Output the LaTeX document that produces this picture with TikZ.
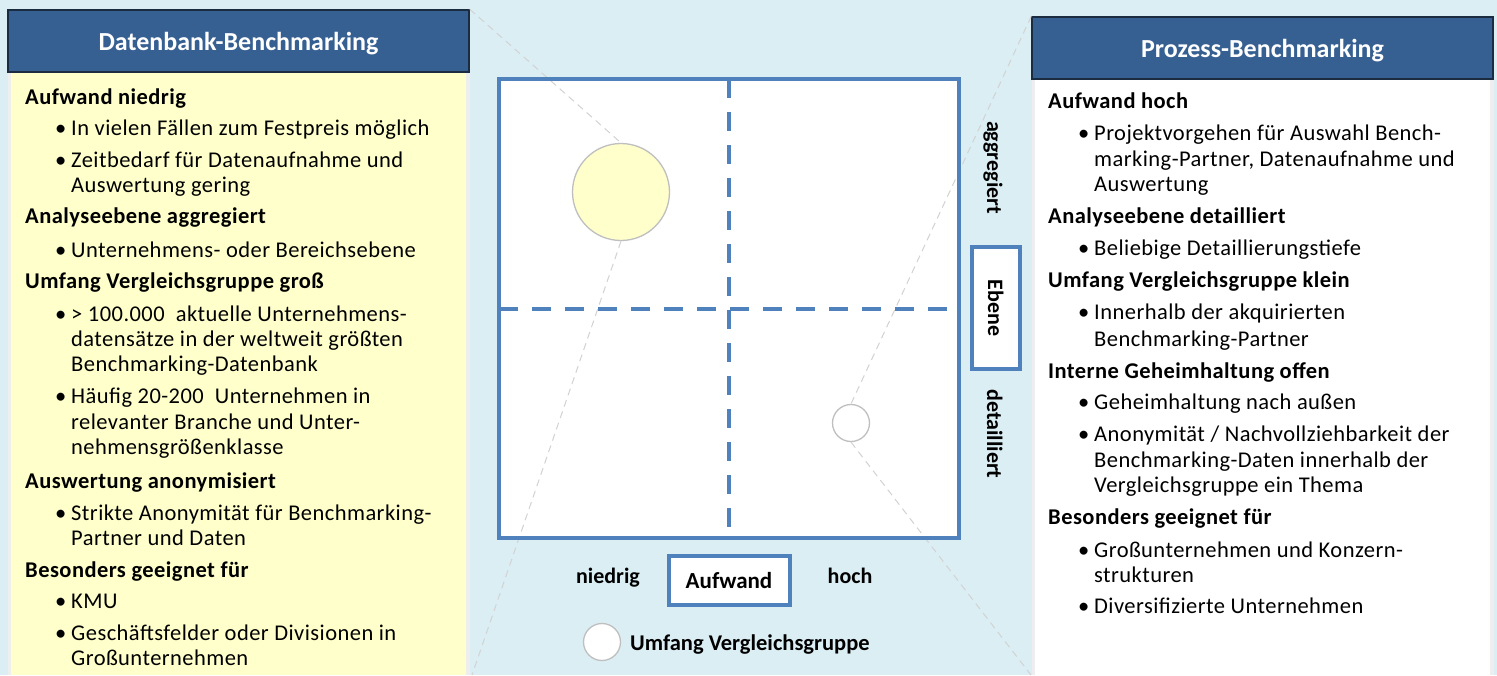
\documentclass[tikz,border=0pt]{standalone}
\usepackage{fontspec}
\setmainfont{Carlito}
\newfontfamily\bodyfont{Carlito}[LetterSpace=2.0]
\definecolor{bg}{HTML}{DBEEF4}
\definecolor{hdblue}{HTML}{376092}
\definecolor{hdborder}{HTML}{1C2C40}
\definecolor{paleyel}{HTML}{FFFFCC}
\definecolor{edgegrey}{HTML}{EEEEEE}
\definecolor{blu}{HTML}{4F81BD}
\definecolor{circgrey}{HTML}{BFBFBF}
\definecolor{callgrey}{HTML}{D2D2D2}
\begin{document}
\begin{tikzpicture}[x=1pt,y=-1pt,
  tx/.style={anchor=base west, inner sep=0pt, font=\bodyfont\fontsize{22.5}{25}\selectfont},
  hd/.style={tx, font=\bodyfont\fontsize{22.5}{25}\selectfont\bfseries},
  bl/.style={tx},
  header/.style={draw=hdborder, line width=1.5pt, fill=hdblue, text=white,
    minimum width=461pt, minimum height=62pt, inner sep=0pt,
    text height=18pt, text depth=0pt, font=\fontsize{26}{28}\selectfont\bfseries},
  bluebox/.style={draw=blu, line width=4pt, fill=white, inner sep=0pt},
  axlab/.style={inner sep=0pt, font=\fontsize{22}{24}\selectfont\bfseries},
  bubble/.style={circle, draw=circgrey, line width=1.3pt, inner sep=0pt},
  callout/.style={draw=callgrey, line width=1pt, dash pattern=on 7pt off 5pt},
  quadline/.style={draw=blu, line width=4pt, dash pattern=on 19pt off 14pt}
]
\useasboundingbox (0,0) rectangle (1497,675);
\fill[bg] (0,0) rectangle (1497,675);

% ---------- left panel ----------
\fill[edgegrey] (8,72) rectangle (470,675);
\fill[paleyel] (11,72) rectangle (466,675);
\node[header] (lh) at (238.5,41) {Datenbank-Benchmarking};

\node[hd] (la1) at (25,104) {Aufwand niedrig};
\node[bl] (lb1) at (55,135) {•};
\node[tx] (lt1) at (71,135) {In vielen Fällen zum Festpreis möglich};
\node[bl] (lb2) at (55,167) {•};
\node[tx] (lt2) at (71,167) {Zeitbedarf für Datenaufnahme und};
\node[tx] (lt2b) at (71,192) {Auswertung gering};
\node[hd] (la2) at (25,223) {Analyseebene aggregiert};
\node[bl] (lb3) at (55,257) {•};
\node[tx] (lt3) at (71,257) {Unternehmens- oder Bereichsebene};
\node[hd] (la3) at (25,288) {Umfang Vergleichsgruppe groß};
\node[bl] (lb4) at (55,321) {•};
\node[tx] (lt4) at (71,321) {> 100.000\ \ aktuelle Unternehmens-};
\node[tx] (lt4b) at (71,346) {datensätze in der weltweit größten};
\node[tx] (lt4c) at (71,371) {Benchmarking-Datenbank};
\node[bl] (lb5) at (55,403) {•};
\node[tx] (lt5) at (71,403) {Häufig 20-200\ \ Unternehmen in};
\node[tx] (lt5b) at (71,429) {relevanter Branche und Unter-};
\node[tx] (lt5c) at (71,454) {nehmensgrößenklasse};
\node[hd] (la4) at (25,488) {Auswertung anonymisiert};
\node[bl] (lb6) at (55,520) {•};
\node[tx] (lt6) at (71,520) {Strikte Anonymität für Benchmarking-};
\node[tx] (lt6b) at (71,545) {Partner und Daten};
\node[hd] (la5) at (25,577) {Besonders geeignet für};
\node[bl] (lb7) at (55,608) {•};
\node[tx] (lt7) at (71,608) {KMU};
\node[bl] (lb8) at (55,640) {•};
\node[tx] (lt8) at (71,640) {Geschäftsfelder oder Divisionen in};
\node[tx] (lt8b) at (71,665) {Großunternehmen};

% ---------- right panel ----------
\fill[edgegrey] (1032,79) rectangle (1494,675);
\fill[white] (1035,79) rectangle (1490,675);
\node[header] (rh) at (1262.5,48) {Prozess-Benchmarking};

\node[hd] (ra1) at (1048,108) {Aufwand hoch};
\node[bl] (rb1) at (1078,140) {•};
\node[tx] (rt1) at (1094,140) {Projektvorgehen für Auswahl Bench-};
\node[tx] (rt1b) at (1094,166) {marking-Partner, Datenaufnahme und};
\node[tx] (rt1c) at (1094,191) {Auswertung};
\node[hd] (ra2) at (1048,223) {Analyseebene detailliert};
\node[bl] (rb2) at (1078,255) {•};
\node[tx] (rt2) at (1094,255) {Beliebige Detaillierungstiefe};
\node[hd] (ra3) at (1048,287) {Umfang Vergleichsgruppe klein};
\node[bl] (rb3) at (1078,319) {•};
\node[tx] (rt3) at (1094,319) {Innerhalb der akquirierten};
\node[tx] (rt3b) at (1094,346) {Benchmarking-Partner};
\node[hd] (ra4) at (1048,378) {Interne Geheimhaltung offen};
\node[bl] (rb4) at (1078,409) {•};
\node[tx] (rt4) at (1094,409) {Geheimhaltung nach außen};
\node[bl] (rb5) at (1078,441) {•};
\node[tx] (rt5) at (1094,441) {Anonymität / Nachvollziehbarkeit der};
\node[tx] (rt5b) at (1094,467) {Benchmarking-Daten innerhalb der};
\node[tx] (rt5c) at (1094,492) {Vergleichsgruppe ein Thema};
\node[hd] (ra5) at (1048,524) {Besonders geeignet für};
\node[bl] (rb6) at (1078,557) {•};
\node[tx] (rt6) at (1094,557) {Großunternehmen und Konzern-};
\node[tx] (rt6b) at (1094,582) {strukturen};
\node[bl] (rb7) at (1078,613) {•};
\node[tx] (rt7) at (1094,613) {Diversifizierte Unternehmen};

% ---------- central matrix ----------
\node[fill=white, minimum width=460pt, minimum height=458pt, inner sep=0pt] (sq) at (729,308.5) {};
\node[bubble, fill=paleyel, minimum size=97pt] (bc) at (621,192) {};
\node[bubble, fill=white, minimum size=37pt] (sc) at (851,423) {};
\coordinate (lbc) at (472,675);
\coordinate (rbc) at (1031,675);
\draw[callout] (lh.north east) -- (bc.north);
\draw[callout] (bc.south) -- (lbc);
\draw[callout] (rh.north west) -- (sc.north);
\draw[callout] (sc.south) -- (rbc);
\draw[quadline] (sq.north) -- (sq.south);
\draw[quadline] (sq.west) -- (sq.east);
\draw[draw=blu, line width=4pt] (sq.north west) rectangle (sq.south east);

\node[bluebox, rotate=-90, minimum width=122pt, minimum height=48pt,
  text height=16pt, text depth=0pt, font=\fontsize{22}{24}\selectfont\bfseries] (eb) at (996,308) {Ebene};
\node[axlab, rotate=-90, text height=16pt, text depth=0pt] (agg) at (995,167.5) {aggregiert};
\node[axlab, rotate=-90, text height=16pt, text depth=0pt] (det) at (995,434) {detailliert};

\node[bluebox, minimum width=121pt, minimum height=49pt, text height=15pt, text depth=0pt,
  font=\fontsize{23}{25}\selectfont\bfseries] (auf) at (729,580.5) {Aufwand};
\node[axlab, anchor=base] (nied) at (608,583) {niedrig};
\node[axlab, anchor=base] (hoch) at (850,583) {hoch};

\node[bubble, fill=white, minimum size=37pt] (lc) at (602,642) {};
\node[axlab, anchor=base west, font=\fontsize{22.5}{24}\selectfont\bfseries] (lgt) at (630,650) {Umfang Vergleichsgruppe};
\end{tikzpicture}
\end{document}
